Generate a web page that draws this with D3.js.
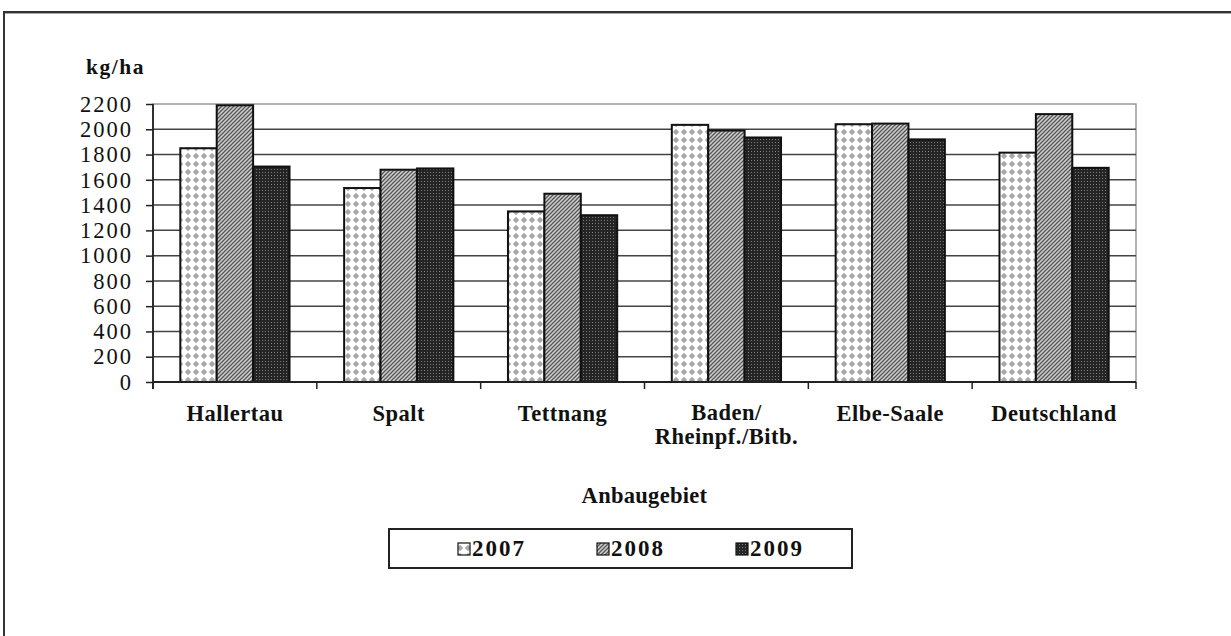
<!DOCTYPE html>
<html>
<head>
<meta charset="utf-8">
<script src="https://cdn.jsdelivr.net/npm/d3@7"></script>
<style>
  html, body { margin: 0; padding: 0; background: #fff; }
  svg { display: block; }
  text { font-family: "Liberation Serif", "Times New Roman", serif; fill: #111; }
</style>
</head>
<body>
<svg id="chart" width="1231" height="636"></svg>
<script>
// ---- data ----
const categories = ["Hallertau", "Spalt", "Tettnang", "Baden/\nRheinpf./Bitb.", "Elbe-Saale", "Deutschland"];
const seriesNames = ["2007", "2008", "2009"];
const values2007 = [1850, 1535, 1350, 2035, 2040, 1815];
const values2008 = [2190, 1680, 1490, 1990, 2045, 2120];
const values2009 = [1705, 1690, 1320, 1935, 1920, 1695];
const yTicks = [0, 200, 400, 600, 800, 1000, 1200, 1400, 1600, 1800, 2000, 2200];
const yUnit = "kg/ha";
const xTitle = "Anbaugebiet";

const seriesValues = [values2007, values2008, values2009];

const svg = d3.select("#chart");
const W = 1231, H = 636;

// patterns
const defs = svg.append("defs");
// 2007: dotted
const p1 = defs.append("pattern").attr("id", "pat2007").attr("patternUnits", "userSpaceOnUse")
  .attr("width", 8).attr("height", 8);
p1.append("rect").attr("width", 8).attr("height", 8).attr("fill", "#ffffff");
p1.append("path").attr("d", "M4,0.8 L7.2,4 L4,7.2 L0.8,4 Z").attr("fill", "#a8a8a8");
// 2008: diagonal hatch
const p2 = defs.append("pattern").attr("id", "pat2008").attr("patternUnits", "userSpaceOnUse")
  .attr("width", 4).attr("height", 4);
p2.append("rect").attr("width", 4).attr("height", 4).attr("fill", "#d0d0d0");
p2.append("path").attr("d", "M-1,1 L1,-1 M0,4 L4,0 M3,5 L5,3").attr("stroke", "#555").attr("stroke-width", 1.3);
// 2009: dark checker
const p3 = defs.append("pattern").attr("id", "pat2009").attr("patternUnits", "userSpaceOnUse")
  .attr("width", 3).attr("height", 3);
p3.append("rect").attr("width", 3).attr("height", 3).attr("fill", "#252525");
p3.append("rect").attr("x", 1).attr("y", 1).attr("width", 1).attr("height", 1).attr("fill", "#7a7a7a");
const fills = ["url(#pat2007)", "url(#pat2008)", "url(#pat2009)"];

// outer frame
svg.append("rect").attr("x", 4.5).attr("y", 13.5).attr("width", W + 10).attr("height", H + 10)
  .attr("fill", "none").attr("stroke", "#aaa").attr("stroke-width", 1);
svg.append("rect").attr("x", 4).attr("y", 12).attr("width", W + 10).attr("height", H + 10)
  .attr("fill", "none").attr("stroke", "#333").attr("stroke-width", 2);

// plot area
const L = 153, R = 1136, T = 104, B = 382;
const y = d3.scaleLinear().domain([0, 2200]).range([B, T]);
const x = d3.scaleBand().domain(categories).range([L, R]).paddingInner(1 / 3).paddingOuter(1 / 6);
const xs = d3.scaleBand().domain(seriesNames).range([0, x.bandwidth()]).padding(0);

// plot border (right/top) gray
svg.append("rect").attr("x", L).attr("y", T).attr("width", R - L).attr("height", B - T)
  .attr("fill", "none").attr("stroke", "#999").attr("stroke-width", 1.5);

// gridlines
svg.append("g").selectAll("line").data(yTicks.filter(d => d > 0 && d < 2200)).join("line")
  .attr("x1", L).attr("x2", R).attr("y1", d => y(d)).attr("y2", d => y(d))
  .attr("stroke", "#444").attr("stroke-width", 1.5);

// bars
const gBars = svg.append("g");
categories.forEach((c, i) => {
  seriesNames.forEach((s, j) => {
    const v = seriesValues[j][i];
    gBars.append("rect")
      .attr("x", x(c) + xs(s))
      .attr("y", y(v))
      .attr("width", xs.bandwidth())
      .attr("height", y(0) - y(v))
      .attr("fill", fills[j])
      .attr("stroke", "#111").attr("stroke-width", 2);
  });
});

// y axis
const yAxis = d3.axisLeft(y).tickValues(yTicks).tickFormat(d3.format("d")).tickSize(7).tickPadding(15);
const gy = svg.append("g").attr("transform", `translate(${L},0)`).call(yAxis);
gy.select(".domain").attr("stroke", "#222").attr("stroke-width", 1.8)
  .attr("d", `M-0,${T}V${B + 7}`);
gy.selectAll(".tick line").attr("stroke", "#222").attr("stroke-width", 1.5);
gy.selectAll(".tick text")
  .style("font-family", '"Liberation Serif", "Times New Roman", serif')
  .style("font-size", "22.5px").style("letter-spacing", "2px")
  .attr("fill", "#111").attr("dx", "2px");

// x axis
svg.append("line").attr("x1", L).attr("x2", R).attr("y1", B).attr("y2", B)
  .attr("stroke", "#222").attr("stroke-width", 1.8);
const bounds = categories.map(c => x(c) - x.step() * x.paddingInner() / 2).concat([R]);
svg.append("g").selectAll("line").data(bounds).join("line")
  .attr("x1", d => d).attr("x2", d => d).attr("y1", B).attr("y2", B + 7)
  .attr("stroke", "#222").attr("stroke-width", 1.5);

// category labels
const gx = svg.append("g");
categories.forEach(c => {
  const lines = c.split("\n");
  const cx = x(c) + x.bandwidth() / 2;
  lines.forEach((ln, k) => {
    gx.append("text").attr("x", cx).attr("y", 421 - (lines.length > 1 ? 1 : 0) + k * 24)
      .attr("text-anchor", "middle").attr("font-weight", "bold").attr("font-size", 22.5)
      .style("letter-spacing", "0.5px")
      .text(ln);
  });
});

// unit label
svg.append("text").attr("x", 86).attr("y", 74).attr("font-weight", "bold").attr("font-size", 21.5)
  .style("letter-spacing", "1.5px").text(yUnit);

// x title
svg.append("text").attr("x", (L + R) / 2).attr("y", 503).attr("text-anchor", "middle")
  .attr("font-weight", "bold").attr("font-size", 22.5).style("letter-spacing", "0.3px").text(xTitle);

// legend
const lg = svg.append("g");
lg.append("rect").attr("x", 389).attr("y", 529).attr("width", 463).attr("height", 39)
  .attr("fill", "#fff").attr("stroke", "#222").attr("stroke-width", 2);
seriesNames.forEach((s, j) => {
  const lx = 458 + j * 139;
  lg.append("rect").attr("x", lx).attr("y", 543).attr("width", 12).attr("height", 12)
    .attr("fill", fills[j]).attr("stroke", "#111").attr("stroke-width", 1.2);
  lg.append("text").attr("x", lx + 14).attr("y", 556).attr("font-weight", "bold").attr("font-size", 23)
    .style("letter-spacing", "2px").text(s);
});
</script>
</body>
</html>
